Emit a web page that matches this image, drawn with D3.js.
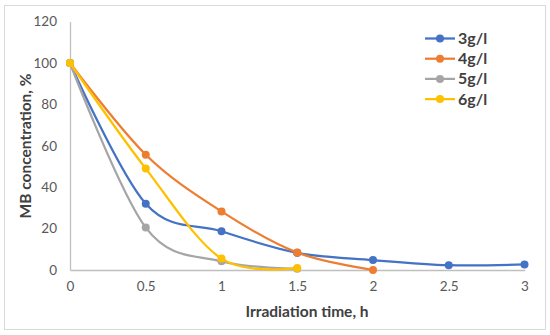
<head>
<style>
body { margin: 0; background: #fff; }
.tick text { font-family: Lato, "Open Sans", sans-serif; font-size: 13.5px; fill: #595959; }
.title { font-family: Lato, "Open Sans", sans-serif; font-size: 15.5px; font-weight: bold; fill: #404040; }
.legend text { font-family: Lato, "Open Sans", sans-serif; font-size: 16px; font-weight: bold; fill: #404040; }
</style>
</head>
<body>
<script src="https://cdnjs.cloudflare.com/ajax/libs/d3/7.8.5/d3.min.js"></script>
<script>
var times = [0, 0.5, 1, 1.5, 2, 2.5, 3];
var s3 = [100, 32, 18.7, 8.3, 4.8, 2.3, 2.7];
var s4 = [100, 55.7, 28.3, 8.4, 0];
var s5 = [100, 20.5, 4.2, 0.6];
var s6 = [100, 49, 5.5, 1];
var names = ["3g/l", "4g/l", "5g/l", "6g/l"];
var colors = ["#4472C4", "#ED7D31", "#A5A5A5", "#FFC000"];
var yTicks = [0, 20, 40, 60, 80, 100, 120];
var xTicks = [0, 0.5, 1, 1.5, 2, 2.5, 3];

var series = [s3, s4, s5, s6].map(function(vals, i) {
  return { name: names[i], color: colors[i],
    pts: vals.map(function(v, j) { return [times[j], v]; }) };
});

var W = 550, H = 335;
var svg = d3.select("body").append("svg").attr("width", W).attr("height", H);

svg.append("rect").attr("x", 4.5).attr("y", 5.5).attr("width", 541).attr("height", 324)
  .attr("fill", "#fff").attr("stroke", "#d9d9d9");

var x = d3.scaleLinear().domain([0, 3]).range([70, 524.5]);
var y = d3.scaleLinear().domain([0, 120]).range([270, 21.6]);

// axes
var ya = svg.append("g").attr("transform", "translate(70,0)")
  .call(d3.axisLeft(y).tickValues(yTicks).tickSize(0).tickPadding(13));
ya.select(".domain").attr("stroke", "#bfbfbf").attr("stroke-width", 1.3);

var xa = svg.append("g").attr("transform", "translate(0,270)")
  .call(d3.axisBottom(x).tickValues(xTicks).tickSize(0).tickPadding(11)
    .tickFormat(function(d) { return d; }));
xa.select(".domain").attr("stroke", "#bfbfbf").attr("stroke-width", 1.3);

svg.append("text").attr("class", "title")
  .attr("transform", "translate(31,146) rotate(-90)")
  .attr("text-anchor", "middle").text("MB concentration, %");
svg.append("text").attr("class", "title")
  .attr("x", 307).attr("y", 317).attr("text-anchor", "middle")
  .text("Irradiation time, h");

var line = d3.line()
  .x(function(d) { return x(d[0]); })
  .y(function(d) { return y(d[1]); })
  .curve(d3.curveCardinal.tension(0));

series.forEach(function(s) {
  svg.append("path").datum(s.pts).attr("d", line)
    .attr("fill", "none").attr("stroke", s.color).attr("stroke-width", 2.25);
  svg.selectAll(null).data(s.pts).enter().append("circle")
    .attr("cx", function(d) { return x(d[0]); })
    .attr("cy", function(d) { return y(d[1]); })
    .attr("r", 4).attr("fill", s.color);
});

// legend
var lg = svg.append("g").attr("class", "legend");
series.forEach(function(s, i) {
  var ly = 38.5 + i * 20.2;
  lg.append("line").attr("x1", 425).attr("x2", 455).attr("y1", ly).attr("y2", ly)
    .attr("stroke", s.color).attr("stroke-width", 2.25);
  lg.append("circle").attr("cx", 440).attr("cy", ly).attr("r", 4).attr("fill", s.color);
  lg.append("text").attr("x", 458).attr("y", ly + 5.5).text(s.name);
});
</script>
</body>
